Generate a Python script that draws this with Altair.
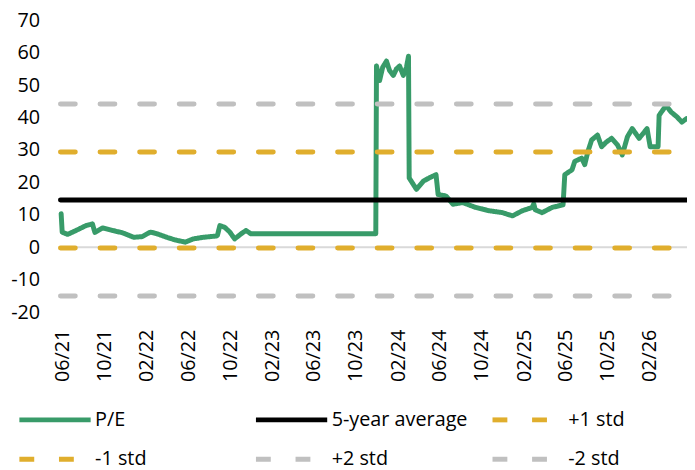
import altair as alt
import pandas as pd

# ---- data ----
pe_dates = [
    "2021-05-28", "2021-05-31", "2021-06-16", "2021-07-20", "2021-08-08", "2021-08-27",
    "2021-09-03", "2021-09-25", "2021-10-24", "2021-11-22", "2021-12-25", "2022-01-18",
    "2022-02-11", "2022-03-02", "2022-03-31", "2022-04-24", "2022-05-23", "2022-06-16",
    "2022-07-15", "2022-08-22", "2022-08-25", "2022-09-01", "2022-09-15", "2022-09-30",
    "2022-10-14", "2022-11-02", "2022-11-16", "2022-11-30", "2023-11-28", "2023-11-30",
    "2023-12-09", "2023-12-18", "2023-12-29", "2024-01-07", "2024-01-18", "2024-01-27",
    "2024-02-05", "2024-02-16", "2024-02-25", "2024-03-02", "2024-03-04", "2024-03-10",
    "2024-03-25", "2024-04-14", "2024-05-01", "2024-05-21", "2024-05-27", "2024-06-19",
    "2024-07-09", "2024-08-07", "2024-09-13", "2024-10-21", "2024-11-30", "2024-12-29",
    "2025-01-27", "2025-02-24", "2025-03-01", "2025-03-05", "2025-03-25", "2025-04-23",
    "2025-05-25", "2025-05-30", "2025-06-20", "2025-06-28", "2025-07-18", "2025-07-27",
    "2025-08-05", "2025-08-16", "2025-09-02", "2025-09-14", "2025-09-28", "2025-10-13",
    "2025-10-30", "2025-11-13", "2025-11-28", "2025-12-12", "2026-01-01", "2026-01-24",
    "2026-02-02", "2026-02-25", "2026-02-28", "2026-03-20", "2026-04-04", "2026-04-21",
    "2026-05-05", "2026-05-19",
]
pe_values = [
    10.4, 4.7, 4.0, 5.7, 6.7, 7.2,
    4.6, 6.0, 5.2, 4.5, 3.1, 3.3,
    4.7, 4.2, 3.1, 2.3, 1.6, 2.6,
    3.1, 3.5, 3.7, 6.7, 6.2, 4.7,
    2.6, 4.2, 5.2, 4.2, 4.2, 55.9,
    51.4, 55.5, 57.4, 54.5, 53.0, 55.0,
    55.9, 53.0, 55.5, 58.9, 21.4, 20.4,
    17.9, 20.4, 21.4, 22.4, 16.3, 15.8,
    13.3, 13.8, 12.3, 11.3, 10.7, 9.7,
    11.3, 12.3, 13.4, 11.6, 10.7, 12.3,
    13.1, 22.4, 23.9, 26.5, 27.5, 25.5,
    29.5, 33.1, 34.6, 31.0, 32.5, 33.6,
    31.6, 28.5, 34.1, 36.6, 33.6, 36.6,
    31.0, 31.0, 40.7, 43.7, 41.7, 40.2,
    38.6, 39.7,
]

ref_names = ["5-year average", "+1 std", "-1 std", "+2 std", "-2 std"]
ref_values = [14.6, 29.4, -0.2, 44.2, -15.0]
ref_span = ["2021-05-26", "2026-05-20"]

series_order = ["P/E", "5-year average", "+1 std", "-1 std", "+2 std", "-2 std"]
series_colors = ["#389b69", "#000000", "#e0ae2d", "#e0ae2d", "#c0c0c0", "#c0c0c0"]
series_dash = [[1, 0], [1, 0], [15, 25], [15, 25], [15, 25], [15, 25]]

tick_dates = [(2021, 6), (2021, 10), (2022, 2), (2022, 6), (2022, 10), (2023, 2),
              (2023, 6), (2023, 10), (2024, 2), (2024, 6), (2024, 10), (2025, 2),
              (2025, 6), (2025, 10), (2026, 2)]
y_ticks = [-20, -10, 0, 10, 20, 30, 40, 50, 60, 70]

# ---- tables ----
pe_df = pd.DataFrame({"date": pe_dates, "value": pe_values, "series": "P/E"})
ref_rows = []
for n, v in zip(ref_names, ref_values):
    for d in ref_span:
        ref_rows.append({"date": d, "value": v, "series": n})
ref_df = pd.DataFrame(ref_rows)
zero_df = pd.DataFrame({"value": [0]})

FONT = "Open Sans"

x_enc = alt.X(
    "date:T",
    title=None,
    scale=alt.Scale(
        type="utc",
        domain=[alt.DateTime(year=2021, month=5, date=26, utc=True),
                alt.DateTime(year=2026, month=5, date=20, utc=True)],
        nice=False,
    ),
    axis=alt.Axis(
        values=[alt.DateTime(year=y, month=m, date=1, utc=True) for y, m in tick_dates],
        labelExpr="utcFormat(datum.value, '%m/%y')",
        labelAngle=270, labelPadding=17, labelOverlap=False,
    ),
)
y_enc = alt.Y(
    "value:Q",
    title=None,
    scale=alt.Scale(domain=[-20, 70], nice=False, zero=False),
    axis=alt.Axis(values=y_ticks, labelPadding=21, labelExpr="'' + datum.value"),
)

legend = alt.Legend(
    title=None, orient="none", legendX=-20, legendY=389, columns=3,
    direction="horizontal", gridAlign="all", columnPadding=14, rowPadding=15,
    symbolType="M-3,0H3", symbolSize=576, symbolStrokeWidth=5,
    labelOffset=26, labelLimit=300,
)
color_enc = alt.Color("series:N", scale=alt.Scale(domain=series_order, range=series_colors),
                      legend=legend)
dash_enc = alt.StrokeDash("series:N", scale=alt.Scale(domain=series_order, range=series_dash),
                          legend=legend)

zero_rule = alt.Chart(zero_df).mark_rule(color="#d9d9d9", strokeWidth=2).encode(y=y_enc)

pe_line = alt.Chart(pe_df).mark_line(strokeWidth=5, strokeCap="round", strokeJoin="round").encode(
    x=x_enc, y=y_enc, color=color_enc, strokeDash=dash_enc
)
ref_lines = alt.Chart(ref_df).mark_line(strokeWidth=5, strokeCap="round").encode(
    x=x_enc, y=y_enc, color=color_enc, strokeDash=dash_enc,
    detail="series:N",
)

chart = alt.layer(zero_rule, pe_line, ref_lines).properties(
    width=633, height=295,
    autosize=alt.AutoSizeParams(type="none"),
    padding={"left": 53, "top": 10, "right": 0, "bottom": 157},
).configure_view(
    stroke=None
).configure_axis(
    domain=False, ticks=False, grid=False, labelFontSize=20, labelFont=FONT,
    labelColor="#000000",
).configure_legend(
    labelFontSize=20, labelFont=FONT, labelColor="#000000",
)

chart.save("out.html", embed_options={"renderer": "svg", "actions": False})
